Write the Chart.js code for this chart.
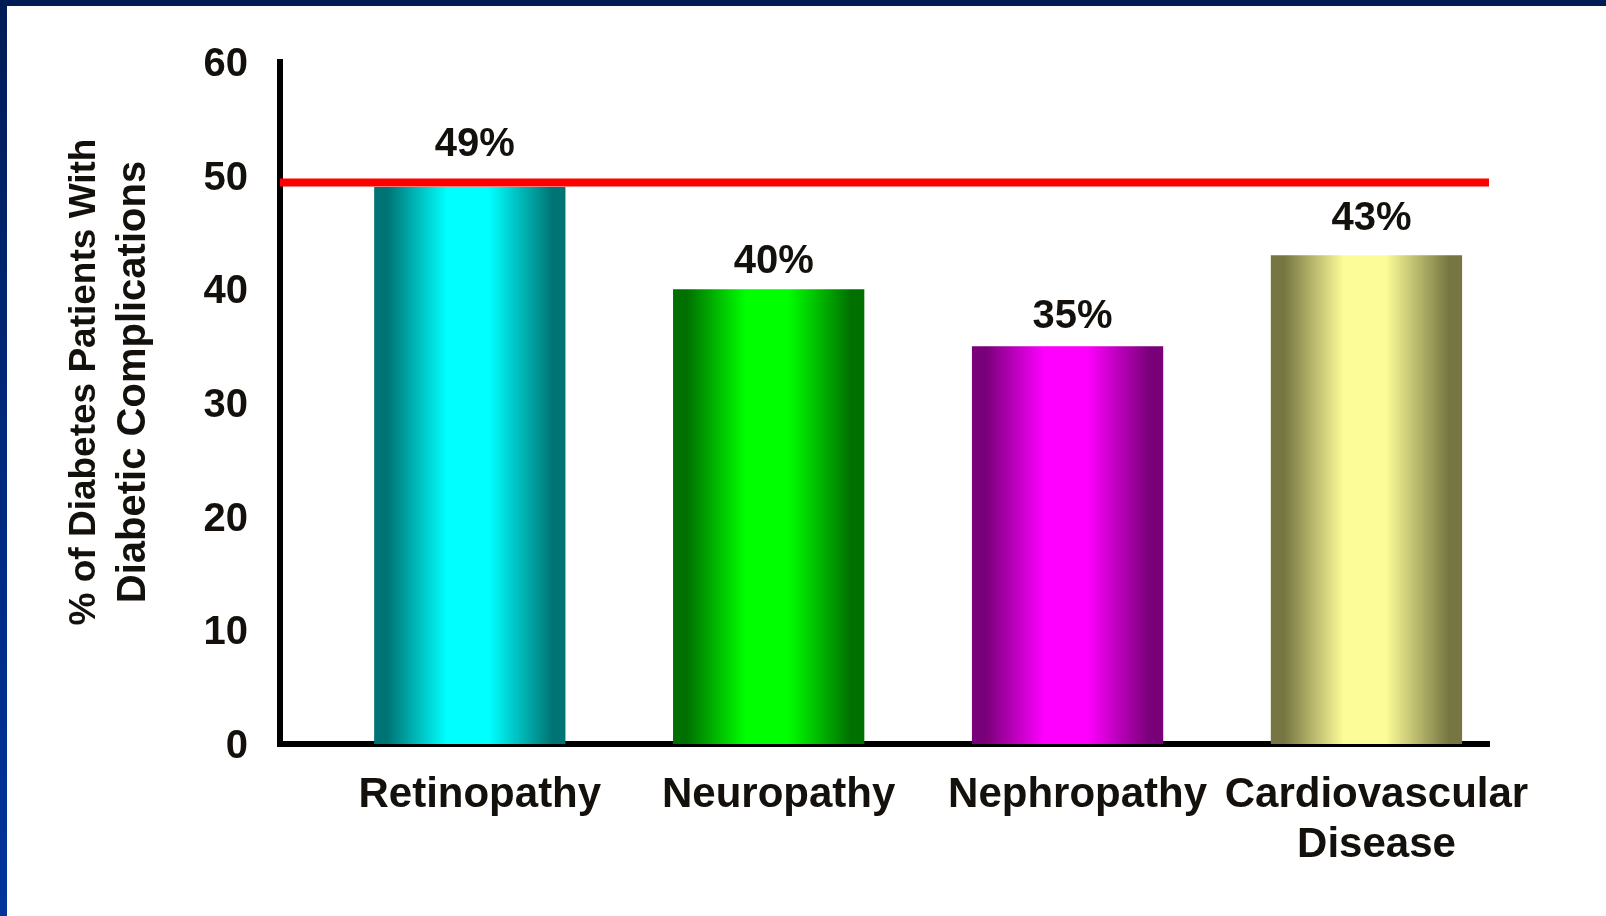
<!DOCTYPE html>
<html>
<head>
<meta charset="utf-8">
<script src="https://cdn.jsdelivr.net/npm/chart.js@4/dist/chart.umd.min.js"></script>
<style>
  html, body { margin: 0; padding: 0; }
  body {
    width: 1606px; height: 916px; overflow: hidden; position: relative;
    background: linear-gradient(to bottom, #001c54 0%, #00287a 45%, #00349c 100%);
  }
  #frame {
    position: absolute; left: 7px; top: 6px; width: 1599px; height: 910px;
    background: #ffffff;
  }
  canvas { display: block; }
</style>
</head>
<body>
<div id="frame"><canvas id="chart" width="1599" height="910"></canvas></div>
<script>
// ---- data ----
const categories = ['Retinopathy', 'Neuropathy', 'Nephropathy', ['Cardiovascular', 'Disease']];
const values = [49, 40, 35, 43];
const valueLabels = ['49%', '40%', '35%', '43%'];
const benchmarkLevel = 49.4;
const yTickValues = [0, 10, 20, 30, 40, 50, 60];
const yTitleLines = ['% of Diabetes Patients With', 'Diabetic Complications'];

// ---- styling ----
const TEXT = '#14110d';
const FONT = '"Liberation Sans", Arial, Helvetica, sans-serif';
const X_MIN = -0.635, X_MAX = 3.41;
const BAR_FRACTION = 0.64;
// edge / centre colours of each bar's cylinder shading
const barShades = [
  ['#007474', '#00ffff'],
  ['#007000', '#00ff00'],
  ['#780078', '#ff00ff'],
  ['#767642', '#fcfc99']
];
// gap between the top of each bar and the baseline of its value label
const labelGaps = [31, 16, 18, 25];

function barFill(ctx) {
  const chart = ctx.chart;
  const xs = chart.scales.x;
  const i = ctx.dataIndex;
  if (!xs || i === undefined) return barShades[0][0];
  const c = xs.getPixelForValue(i);
  const half = (xs.getPixelForValue(1) - xs.getPixelForValue(0)) * BAR_FRACTION / 2;
  if (!isFinite(c) || !isFinite(half) || half <= 0) return barShades[i][0];
  const [edge, mid] = barShades[i];
  const g = chart.ctx.createLinearGradient(c - half, 0, c + half, 0);
  g.addColorStop(0, edge);
  g.addColorStop(0.07, edge);
  g.addColorStop(0.38, mid);
  g.addColorStop(0.6, mid);
  g.addColorStop(0.93, edge);
  g.addColorStop(1, edge);
  return g;
}

// value labels above the bars
const valueLabelPlugin = {
  id: 'valueLabels',
  afterDatasetsDraw(chart) {
    const meta = chart.getDatasetMeta(1);
    const ctx = chart.ctx;
    ctx.save();
    ctx.fillStyle = TEXT;
    ctx.font = 'bold 40px ' + FONT;
    ctx.textAlign = 'center';
    ctx.textBaseline = 'alphabetic';
    meta.data.forEach((bar, i) => {
      ctx.fillText(valueLabels[i], bar.x + 5, bar.y - labelGaps[i]);
    });
    ctx.restore();
  }
};

// two-line rotated y-axis title
const yTitlePlugin = {
  id: 'yTitle',
  afterDraw(chart) {
    const ctx = chart.ctx;
    const midY = (chart.chartArea.top + chart.chartArea.bottom) / 2 - 21;
    const specs = [
      { text: yTitleLines[0], size: 37, x: 88 },
      { text: yTitleLines[1], size: 40, x: 138 }
    ];
    ctx.save();
    ctx.fillStyle = TEXT;
    ctx.textAlign = 'center';
    ctx.textBaseline = 'alphabetic';
    specs.forEach(s => {
      ctx.save();
      ctx.translate(s.x, midY);
      ctx.rotate(-Math.PI / 2);
      ctx.font = 'bold ' + s.size + 'px ' + FONT;
      ctx.fillText(s.text, 0, 0);
      ctx.restore();
    });
    ctx.restore();
  }
};

new Chart(document.getElementById('chart'), {
  data: {
    datasets: [
      {
        type: 'line',
        label: 'benchmark',
        data: [{ x: X_MIN, y: benchmarkLevel }, { x: X_MAX, y: benchmarkLevel }],
        borderColor: '#ff0000',
        borderWidth: 8,
        pointRadius: 0,
        fill: false,
        order: 0,
        clip: false
      },
      {
        type: 'bar',
        label: 'complications',
        data: values.map((v, i) => ({ x: i, y: v })),
        backgroundColor: barFill,
        borderWidth: 0,
        barPercentage: BAR_FRACTION,
        categoryPercentage: 1,
        order: 1
      }
    ]
  },
  options: {
    responsive: false,
    devicePixelRatio: 1,
    animation: false,
    layout: { padding: { left: 0, top: 56, right: 117, bottom: 0 } },
    plugins: { legend: { display: false }, tooltip: { enabled: false } },
    scales: {
      x: {
        type: 'linear',
        offset: false,
        min: X_MIN,
        max: X_MAX,
        afterBuildTicks(scale) { scale.ticks = categories.map((c, i) => ({ value: i })); },
        afterFit(scale) { scale.height = 172; },
        grid: { display: false, drawTicks: false, offset: false },
        border: { display: true, color: '#000000', width: 6 },
        ticks: {
          autoSkip: false,
          maxRotation: 0,
          padding: 26,
          labelOffset: 10,
          color: TEXT,
          font: { family: FONT, size: 42, weight: 'bold', lineHeight: 1.2 },
          callback: (v, idx) => categories[idx]
        }
      },
      y: {
        type: 'linear',
        min: 0,
        max: 60,
        afterBuildTicks(scale) { scale.ticks = yTickValues.map(v => ({ value: v })); },
        afterFit(scale) { scale.width = 273; },
        grid: { display: false, drawTicks: false },
        border: { display: true, color: '#000000', width: 6 },
        ticks: {
          padding: 32,
          labelOffset: 3,
          color: TEXT,
          font: { family: FONT, size: 40, weight: 'bold' }
        }
      }
    }
  },
  plugins: [valueLabelPlugin, yTitlePlugin]
});
</script>
</body>
</html>
